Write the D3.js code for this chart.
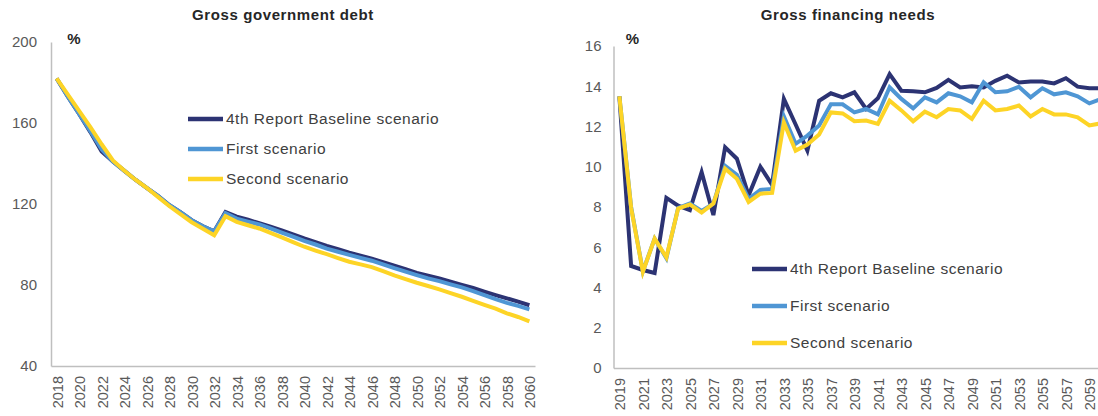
<!DOCTYPE html>
<html>
<head>
<meta charset="utf-8">
<script src="https://cdn.jsdelivr.net/npm/d3@7"></script>
<style>
  body { margin: 0; background: #fff; }
  svg { display: block; overflow: hidden; }
  text { font-family: "Century Gothic", "Liberation Sans", Arial, sans-serif; }
</style>
</head>
<body>
<div id="chart"></div>
<script>
// debt chart data (% of GDP)
const debtYears = d3.range(2018, 2061);
const debtBaseline = [182, 173, 164.5, 155.5, 146, 141, 136.5, 132, 128, 124, 119.5, 116, 112, 109, 106.5,
  116, 113.8, 112.2, 110.5, 108.8, 107, 105, 103, 101.2, 99.3, 97.7, 96, 94.5, 93, 91.3, 89.5, 87.8, 86,
  84.6, 83.2, 81.6, 80, 78.5, 76.7, 75, 73.4, 71.8, 70];
const debtFirst = [182, 173, 164.5, 156, 147, 141, 136.5, 132, 128, 124, 119.5, 116, 112, 109, 106.5,
  115.5, 112.8, 111.3, 109.9, 108, 105.9, 103.9, 101.8, 100, 98, 96.4, 94.9, 93.4, 92, 90.2, 88.3, 86.6, 84.9,
  83.3, 81.9, 80.3, 78.8, 77, 75, 73, 71.2, 69.7, 68];
const debtSecond = [182, 174, 166, 158, 149.5, 141.5, 136.5, 132, 128, 123.5, 119, 115, 111, 107.8, 104.6,
  114, 111.2, 109.5, 107.9, 105.7, 103.5, 101.2, 98.9, 97, 95.2, 93.3, 91.5, 90.2, 88.8, 86.8, 84.7, 82.9, 81.1,
  79.5, 77.8, 76, 74.2, 72.2, 70.2, 68.3, 66, 64.2, 62];
const debtTicks = [40, 80, 120, 160, 200];

// gross financing needs data (% of GDP)
const gfnYears = d3.range(2019, 2061);
const gfnBaseline = [13.5, 5.07, 4.87, 4.72, 8.45, 8.07, 7.85, 9.73, 7.6, 10.97, 10.4, 8.58, 10.0, 9.1,
  13.37, 12.1, 10.8, 13.28, 13.65, 13.45, 13.7, 12.87, 13.4, 14.6, 13.78, 13.75, 13.7, 13.92, 14.32, 13.94,
  14.0, 13.94, 14.27, 14.52, 14.19, 14.24, 14.24, 14.14, 14.4, 13.98, 13.9, 13.9];
const gfnFirst = [13.5, 8.0, 4.8, 6.43, 5.45, 7.95, 8.18, 7.8, 8.17, 10.05, 9.6, 8.4, 8.85, 8.9,
  12.5, 11.14, 11.55, 12.05, 13.1, 13.1, 12.7, 12.87, 12.6, 13.95, 13.37, 12.9, 13.45, 13.2, 13.65, 13.5,
  13.2, 14.2, 13.7, 13.75, 13.97, 13.45, 13.9, 13.6, 13.7, 13.5, 13.15, 13.37];
const gfnSecond = [13.5, 7.95, 4.78, 6.43, 5.5, 7.92, 8.13, 7.72, 8.17, 9.9, 9.4, 8.25, 8.66, 8.7,
  12.2, 10.8, 11.1, 11.6, 12.7, 12.65, 12.26, 12.3, 12.13, 13.28, 12.8, 12.26, 12.74, 12.46, 12.87, 12.8,
  12.38, 13.28, 12.8, 12.87, 13.04, 12.5, 12.87, 12.6, 12.6, 12.46, 12.05, 12.16];
const gfnTicks = [0, 2, 4, 6, 8, 10, 12, 14, 16];

const seriesNames = ['4th Report Baseline scenario', 'First scenario', 'Second scenario'];
const seriesColors = ['#2c3373', '#4f96d4', '#fdd426'];

const W = 1098, H = 416;

const svg = d3.select('#chart')
  .append('svg')
  .attr('width', W)
  .attr('height', H);

const drawPanel = (cfg) => {
  const g = svg.append('g');

  const x = d3.scaleBand()
    .domain(cfg.years)
    .range(cfg.xRange);
  const y = d3.scaleLinear()
    .domain(cfg.yDomain)
    .range(cfg.yRange);

  // y axis
  const yAxis = g.append('g')
    .attr('transform', `translate(${cfg.xRange[0]},0)`)
    .call(d3.axisLeft(y).tickValues(cfg.yTicks).tickSize(0).tickPadding(cfg.yPad));
  yAxis.select('.domain').attr('stroke', '#bfbfbf').attr('stroke-width', 1.5);
  yAxis.selectAll('text')
    .attr('fill', '#595959')
    .style('font-size', '15px');

  // x axis
  const xAxis = g.append('g')
    .attr('transform', `translate(0,${cfg.yRange[0]})`)
    .call(d3.axisBottom(x)
      .tickValues(cfg.years.filter((d, i) => i % 2 == 0))
      .tickSize(0));
  xAxis.select('.domain').attr('stroke', '#bfbfbf').attr('stroke-width', 1.5);
  xAxis.selectAll('text')
    .attr('fill', '#595959')
    .style('font-size', '14.5px')
    .attr('transform', 'rotate(-90)')
    .attr('text-anchor', 'end')
    .attr('x', -10)
    .attr('y', 1)
    .attr('dy', '0.35em');

  // title and unit
  g.append('text')
    .attr('x', cfg.titleX)
    .attr('y', 20)
    .attr('text-anchor', 'middle')
    .attr('fill', '#262626')
    .style('font-size', '15px')
    .style('letter-spacing', '0.6px')
    .style('font-weight', 'bold')
    .text(cfg.title);
  g.append('text')
    .attr('x', cfg.xRange[0] + cfg.pctDx)
    .attr('y', 44)
    .attr('text-anchor', 'middle')
    .attr('fill', '#262626')
    .style('font-size', '15px')
    .style('font-weight', 'bold')
    .text('%');

  // lines
  const line = d3.line()
    .x((d, i) => x(cfg.years[i]) + x.bandwidth() / 2)
    .y(d => y(d))
    .curve(d3.curveLinear);

  cfg.series.forEach((s, k) => {
    g.append('path')
      .datum(s)
      .attr('fill', 'none')
      .attr('stroke', seriesColors[k])
      .attr('stroke-width', 4)
      .attr('stroke-linejoin', 'miter')
      .attr('d', line);
  });

  // legend
  seriesNames.forEach((name, k) => {
    const ly = cfg.legendY + k * cfg.legendStep;
    g.append('line')
      .attr('x1', cfg.legendX)
      .attr('x2', cfg.legendX + 35)
      .attr('y1', ly)
      .attr('y2', ly)
      .attr('stroke', seriesColors[k])
      .attr('stroke-width', 4.5);
    g.append('text')
      .attr('x', cfg.legendX + 38)
      .attr('y', ly)
      .attr('dy', '0.35em')
      .attr('fill', '#404040')
      .style('font-size', '15.5px')
      .style('letter-spacing', '0.5px')
      .text(name);
  });
};

drawPanel({
  years: debtYears,
  series: [debtBaseline, debtFirst, debtSecond],
  xRange: [51, 535],
  yDomain: [40, 200],
  yRange: [366, 42],
  yTicks: debtTicks,
  yPad: 14,
  title: 'Gross government debt',
  titleX: 283,
  pctDx: 23,
  legendX: 188,
  legendY: 119,
  legendStep: 30
});

drawPanel({
  years: gfnYears,
  series: [gfnBaseline, gfnFirst, gfnSecond],
  xRange: [613.5, 613.5 + 42 * 11.75],
  yDomain: [0, 16],
  yRange: [368, 46],
  yTicks: gfnTicks,
  yPad: 12,
  title: 'Gross financing needs',
  titleX: 848,
  pctDx: 19,
  legendX: 752,
  legendY: 269,
  legendStep: 37
});
</script>
</body>
</html>
